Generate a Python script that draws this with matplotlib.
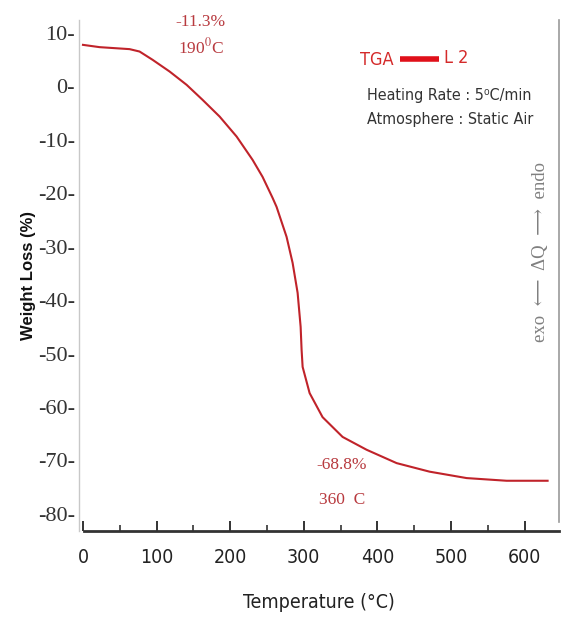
import matplotlib
matplotlib.use("Agg")
import matplotlib.pyplot as plt
import numpy as np

# TGA curve for L 2 (temperature in deg C, weight loss in %)
temp_c = [0, 22.6, 63.3, 76.9, 94.6, 117.7, 140.8, 162.5, 185.6, 208.7, 230.4,
          244.0, 257.6, 263.0, 276.6, 284.8, 291.6, 295.7, 297.0, 298.4, 307.9,
          325.5, 352.7, 385.3, 426.1, 470.9, 521.2, 575.5, 631.2]
weight_loss = [7.75, 7.32, 6.95, 6.50, 4.95, 2.76, 0.27, -2.54, -5.66, -9.40, -13.76,
               -16.95, -20.88, -22.56, -28.17, -33.04, -38.65, -45.0, -49.3, -52.5, -57.4,
               -61.9, -65.6, -68.0, -70.5, -72.1, -73.3, -73.8, -73.8]

y_ticks = [10, 0, -10, -20, -30, -40, -50, -60, -70, -80]
x_ticks = [0, 100, 200, 300, 400, 500, 600]

# (loss text, temperature text, x, y of loss, y of temperature)
step_labels = [("-11.3%", "190$^{\\mathrm{0}}$C", 160, 12.0, 7.3),
               ("-68.8%", "360  C", 352, -70.9, -77.4)]

curve_red = "#c0232a"
note_red = "#b83a3f"
sans = ["Liberation Sans Narrow", "DejaVu Sans"]
serif = ["Liberation Serif", "DejaVu Serif"]
plt.rcParams["mathtext.fontset"] = "stix"

fig = plt.figure(figsize=(5.61, 6.18), dpi=100)
ax = fig.add_axes([79 / 561, 87 / 618, 480 / 561, 511 / 618])

ax.plot(temp_c, weight_loss, color=curve_red, lw=1.5, solid_joinstyle="round")

ax.set_xlim(-5.4, 646.7)
ax.set_ylim(-83.2, 12.4)

# y axis: serif labels with a trailing dash, no tick marks
ax.set_yticks(y_ticks)
ax.set_yticklabels([f"{v}-" for v in y_ticks], family=serif, fontsize=16, color="#333333")
ax.tick_params(axis="y", length=0, pad=3)

# x axis: inward ticks every 50, labels every 100
ax.set_xticks(x_ticks)
ax.set_xticks(np.arange(50, 650, 100), minor=True)
ax.set_xticklabels([str(v) for v in x_ticks], family=sans, stretch="condensed",
                   fontsize=14, color="#222222")
ax.tick_params(axis="x", which="major", direction="in", length=7, width=1.4,
               color="#333333", pad=12)
ax.tick_params(axis="x", which="minor", direction="in", length=4, width=1.2,
               color="#333333")

ax.spines["top"].set_visible(False)
ax.spines["left"].set_color("#c8c8c8")
ax.spines["left"].set_linewidth(1.0)
ax.spines["right"].set_color("#9a9a9a")
ax.spines["right"].set_linewidth(1.2)
ax.spines["right"].set_bounds(-81.6, 12.4)
ax.spines["bottom"].set_color("#333333")
ax.spines["bottom"].set_linewidth(2.0)
ax.spines["bottom"].set_bounds(1, 646.7)

ax.set_xlabel("Temperature (°C)", family=sans, stretch="condensed", fontsize=14,
              color="#222222", labelpad=19)
ax.set_ylabel("Weight Loss (%)", family=["Liberation Sans", "DejaVu Sans"],
              fontsize=12, fontweight="bold", color="#111111", labelpad=1)

for pct, temp, tx, py, ty in step_labels:
    ax.text(tx, py, pct, family=serif, fontsize=12.5, color=note_red, ha="center", va="center")
    ax.text(tx, ty, temp, family=serif, fontsize=12.5, color=note_red, ha="center", va="center")

# legend and run conditions
ax.text(422, 5.0, "TGA", family=sans, stretch="condensed", fontsize=13,
        color="#d42a2a", ha="right", va="center")
ax.plot([431, 484], [5.1, 5.1], color="#e0101a", lw=4, solid_capstyle="butt")
ax.text(491, 5.2, "L 2", family=sans, stretch="condensed", fontsize=13,
        color="#d42a2a", ha="left", va="center")
ax.text(386, -1.8, "Heating Rate : 5\u2070C/min", family=sans, stretch="condensed",
        fontsize=11.5, color="#333333", ha="left", va="center")
ax.text(386, -6.3, "Atmosphere : Static Air", family=sans, stretch="condensed",
        fontsize=11.5, color="#333333", ha="left", va="center")

ax.text(622, -31.0, "exo  \u27f5  \u0394Q  \u27f6  endo", family=serif, fontsize=13.5,
        color="#808080", rotation=90, ha="center", va="center")

fig.savefig("out.png", dpi=100)
